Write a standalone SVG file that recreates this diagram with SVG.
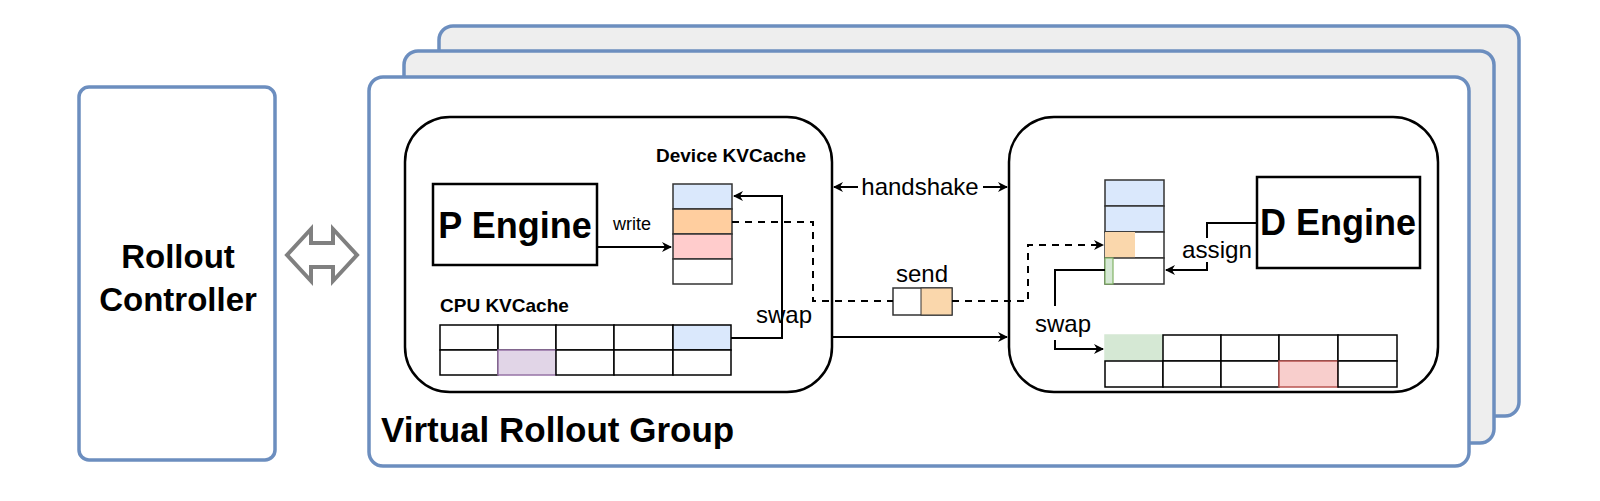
<svg xmlns="http://www.w3.org/2000/svg" width="1600" height="501" viewBox="0 0 1600 501">
<defs>
<marker id="ah" markerWidth="10" markerHeight="10" refX="9" refY="5" orient="auto" markerUnits="userSpaceOnUse"><path d="M0,0 L10,5 L0,10 L3,5 Z" fill="#000"/></marker>
<marker id="ahs" markerWidth="10" markerHeight="10" refX="1" refY="5" orient="auto" markerUnits="userSpaceOnUse"><path d="M10,0 L0,5 L10,10 L7,5 Z" fill="#000"/></marker>
</defs>
<style>
.panel{stroke:#6c8ebf;stroke-width:3.5}
.box{fill:#fff;stroke:#000;stroke-width:2.5}
.c{stroke:#333;stroke-width:1.5}
.ln{fill:none;stroke:#000;stroke-width:2}
.dl{fill:none;stroke:#000;stroke-width:2;stroke-dasharray:7,6}
text{font-family:"Liberation Sans",Arial,sans-serif;fill:#000}
.b{font-weight:bold}
</style>
<g id="rollout-controller">
<rect class="panel" x="79" y="87" width="196" height="373" rx="10" fill="#fff"/>
<text class="b" x="178" y="268" font-size="33" text-anchor="middle">Rollout</text>
<text class="b" x="178" y="311" font-size="33" text-anchor="middle">Controller</text>
</g>
<g id="bidir-arrow">
<polygon points="287,255 311,229 311,243 333,243 333,229 357,255 333,281 333,267 311,267 311,281" fill="#fff" stroke="#808080" stroke-width="4"/>
</g>
<g id="group-back">
<rect class="panel" x="439" y="26" width="1080" height="390" rx="14" fill="#eeeeee"/>
<rect class="panel" x="404" y="51" width="1090" height="392" rx="14" fill="#eeeeee"/>
</g>
<g id="virtual-rollout-group">
<rect class="panel" x="369" y="77" width="1100" height="389" rx="14" fill="#fff"/>
<text class="b" x="381" y="442" font-size="35">Virtual Rollout Group</text>
</g>
<g id="p-side">
<rect class="box" x="405" y="117" width="427" height="275" rx="45"/>
<rect class="box" x="433" y="184" width="164" height="81" rx="0"/>
<text class="b" x="515" y="238" font-size="36" text-anchor="middle">P Engine</text>
<text class="b" x="731" y="162" font-size="19" text-anchor="middle">Device KVCache</text>
<rect class="c" x="673" y="184" width="59" height="25" fill="#dae8fc"/>
<rect class="c" x="673" y="209" width="59" height="25" fill="#ffce9f"/>
<rect class="c" x="673" y="234" width="59" height="25" fill="#ffcccc"/>
<rect class="c" x="673" y="259" width="59" height="25" fill="#fff"/>
<text class="b" x="440" y="312" font-size="19">CPU KVCache</text>
<g fill="#fff" stroke="#000" stroke-width="1.5">
<rect x="440" y="325" width="58" height="25"/><rect x="498" y="325" width="58" height="25"/><rect x="556" y="325" width="58" height="25"/><rect x="614" y="325" width="59" height="25"/><rect x="673" y="325" width="58" height="25" fill="#dae8fc"/>
<rect x="440" y="350" width="58" height="25"/><rect x="498" y="350" width="58" height="25" fill="#e1d5e7" stroke="#9673a6"/><rect x="556" y="350" width="58" height="25"/><rect x="614" y="350" width="59" height="25"/><rect x="673" y="350" width="58" height="25"/>
</g>
</g>
<g id="d-side">
<rect class="box" x="1009" y="117" width="429" height="275" rx="45"/>
<rect class="box" x="1257" y="177" width="163" height="91"/>
<text class="b" x="1338" y="235" font-size="36" text-anchor="middle">D Engine</text>
<rect class="c" x="1105" y="180" width="59" height="26" fill="#dae8fc"/>
<rect class="c" x="1105" y="206" width="59" height="26" fill="#dae8fc"/>
<rect class="c" x="1105" y="232" width="59" height="26" fill="#fff"/>
<rect x="1105" y="232" width="30" height="26" fill="#fad7ac"/>
<rect class="c" x="1105" y="258" width="59" height="26" fill="#fff"/>
<rect x="1105" y="258" width="8" height="26" fill="#d5e8d4" stroke="#82b366" stroke-width="1.2"/>
<g fill="#fff" stroke="#000" stroke-width="1.5">
<rect x="1105" y="335" width="58" height="26" fill="#d5e8d4" stroke="#d5e8d4"/><rect x="1163" y="335" width="58" height="26"/><rect x="1221" y="335" width="58" height="26"/><rect x="1279" y="335" width="59" height="26"/><rect x="1338" y="335" width="59" height="26"/>
<rect x="1105" y="361" width="58" height="26"/><rect x="1163" y="361" width="58" height="26"/><rect x="1221" y="361" width="58" height="26"/><rect x="1279" y="361" width="59" height="26" fill="#f8cecc" stroke="#b85450"/><rect x="1338" y="361" width="59" height="26"/>
</g>
</g>
<g id="send-block">
<rect x="893" y="288" width="59" height="27" fill="#fff" stroke="#333" stroke-width="1.5"/>
<rect x="921" y="288" width="31" height="27" fill="#fad7ac" stroke="#333" stroke-width="1"/>
<text x="922" y="282" font-size="24" text-anchor="middle">send</text>
</g>
<g id="connectors">
<path class="ln" d="M597,247 L671,247" marker-end="url(#ah)"/>
<text x="632" y="230" font-size="18" text-anchor="middle">write</text>
<path class="ln" d="M731,338 L782,338 L782,196 L734,196" marker-end="url(#ah)"/>
<text x="784" y="323" font-size="24" text-anchor="middle">swap</text>
<path class="dl" d="M732,222 L813,222 L813,301 L893,301"/>
<path class="dl" d="M952,301 L1028,301 L1028,245 L1103,245" marker-end="url(#ah)"/>
<path class="ln" d="M834,187 L858,187" marker-start="url(#ahs)"/>
<path class="ln" d="M983,187 L1007,187" marker-end="url(#ah)"/>
<text x="920" y="195" font-size="24" text-anchor="middle">handshake</text>
<path class="ln" d="M832,337 L1007,337" marker-end="url(#ah)"/>
<path class="ln" d="M1257,223 L1207,223 L1207,270 L1166,270" marker-end="url(#ah)"/>
<rect x="1181" y="238" width="72" height="24" fill="#fff"/>
<text x="1217" y="258" font-size="24" text-anchor="middle" textLength="70" lengthAdjust="spacingAndGlyphs">assign</text>
<path class="ln" d="M1105,270 L1055,270 L1055,306"/>
<text x="1063" y="332" font-size="24" text-anchor="middle">swap</text>
<path class="ln" d="M1055,340 L1055,349 L1103,349" marker-end="url(#ah)"/>
</g>
</svg>
